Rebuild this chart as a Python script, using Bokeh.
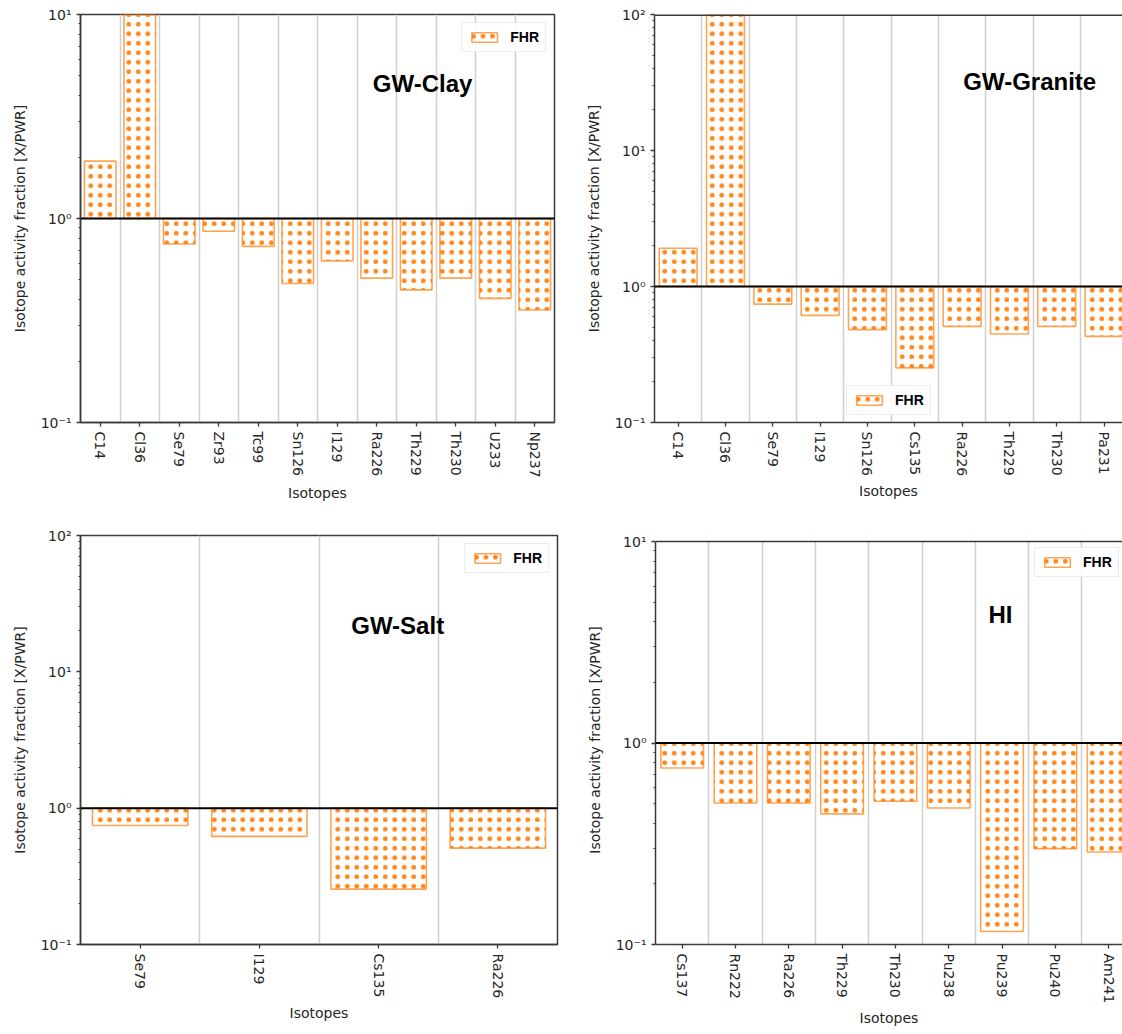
import math

from bokeh.plotting import figure
from bokeh.layouts import column, row
from bokeh.models import FixedTicker, Span, Label, BoxAnnotation
from bokeh.embed import file_html
from bokeh.resources import INLINE

# Activity fraction of each isotope relative to the PWR reference (X/PWR), per scenario
clay_isotopes = ["C14", "Cl36", "Se79", "Zr93", "Tc99", "Sn126", "I129",
                 "Ra226", "Th229", "Th230", "U233", "Np237"]
clay_fhr = [1.91, 40.0, 0.75, 0.866, 0.73, 0.48, 0.62, 0.51, 0.447, 0.51, 0.406, 0.356]

granite_isotopes = ["C14", "Cl36", "Se79", "I129", "Sn126", "Cs135",
                    "Ra226", "Th229", "Th230", "Pa231"]
granite_fhr = [1.91, 150.0, 0.742, 0.613, 0.482, 0.252, 0.509, 0.447, 0.509, 0.43]

salt_isotopes = ["Se79", "I129", "Cs135", "Ra226"]
salt_fhr = [0.747, 0.621, 0.255, 0.509]

hi_isotopes = ["Cs137", "Rn222", "Ra226", "Th229", "Th230", "Pu238",
               "Pu239", "Pu240", "Am241"]
hi_fhr = [0.751, 0.504, 0.504, 0.445, 0.514, 0.476, 0.116, 0.299, 0.288]

BASELINE = 1.0
ORANGE = "#ff7f0e"
INK = "#262626"
FRAME = "#3a3a3a"
SUP = {-1: "10\u207b\u00b9", 0: "10\u2070", 1: "10\u00b9", 2: "10\u00b2"}


def panel(names, values, title, title_xy, ymax, width, height, borders,
          x_end=None, legend_loc="top_right", open_right=False, view_top=None):
    """One scenario: hatched bars from the X/PWR = 1 baseline on a log axis."""
    n = len(names)
    idx = list(range(n))
    left, right, top, bottom = borders
    p = figure(width=width, height=height, y_axis_type="log",
               x_range=(-0.5, x_end if x_end is not None else n - 0.5),
               y_range=(0.1, view_top if view_top else ymax),
               output_backend="svg", toolbar_location=None,
               min_border_left=left, min_border_right=right,
               min_border_top=top, min_border_bottom=bottom)
    p.background_fill_color = "white"
    p.border_fill_color = "white"

    # vertical separators between isotopes
    p.xgrid.ticker = FixedTicker(ticks=[i + 0.5 for i in idx])
    p.xgrid.grid_line_color = "#cfcfcf"
    p.xgrid.grid_line_width = 1.5
    p.ygrid.grid_line_color = None

    p.vbar(x=idx, width=0.8, bottom=BASELINE, top=values,
           fill_color=None, line_color=ORANGE, line_width=1.6, line_alpha=0.7,
           hatch_pattern="dot", hatch_color=ORANGE, hatch_scale=9.5,
           hatch_weight=1.5, hatch_alpha=0.95, legend_label="FHR")

    p.add_layout(Span(location=BASELINE, dimension="width",
                      line_color="black", line_width=2))

    if open_right:
        p.outline_line_color = None
        if view_top:
            # blank strip above the axes box
            p.add_layout(BoxAnnotation(bottom=ymax, fill_color="white", fill_alpha=1,
                                       line_color=None, level="guide"))
        p.add_layout(Span(location=ymax, dimension="width",
                          line_color=FRAME, line_width=1.5 if view_top else 3))
    else:
        p.outline_line_color = FRAME
        p.outline_line_width = 1.5

    xax = p.below[0]
    yax = p.left[0]

    lo, hi = -1, int(round(math.log10(ymax)))
    majors = [10.0 ** e for e in range(lo, hi + 1)]
    minors = [m * 10.0 ** e for e in range(lo, hi) for m in range(2, 10)]
    yax.ticker = FixedTicker(ticks=majors, minor_ticks=minors)
    yax.major_label_overrides = {10.0 ** e: SUP[e] for e in range(lo, hi + 1)}
    yax.bounds = (0.1, ymax)
    xax.ticker = FixedTicker(ticks=idx)
    xax.major_label_overrides = {i: s for i, s in zip(idx, names)}
    xax.major_label_orientation = "vertical"

    for ax in (xax, yax):
        ax.axis_line_color = FRAME
        ax.axis_line_width = 1.5
        ax.major_tick_line_color = FRAME
        ax.major_tick_line_width = 1.3
        ax.major_tick_in = 0
        ax.major_tick_out = 4
        ax.minor_tick_line_color = FRAME
        ax.minor_tick_in = 0
        ax.minor_tick_out = 2
        ax.major_label_text_font = "DejaVu Sans"
        ax.major_label_text_font_size = "14px"
        ax.major_label_text_color = INK
        ax.axis_label_text_font = "DejaVu Sans"
        ax.axis_label_text_font_size = "14px"
        ax.axis_label_text_font_style = "normal"
        ax.axis_label_text_color = INK
    xax.axis_label = "Isotopes"
    yax.axis_label = "Isotope activity fraction [X/PWR]"
    yax.axis_label_standoff = 10
    xax.axis_label_standoff = 4

    p.add_layout(Label(x=title_xy[0], y=title_xy[1], text=title,
                       text_font="Liberation Sans", text_font_style="bold",
                       text_font_size="24px", text_color="black",
                       text_align="center", text_baseline="middle"))

    lg = p.legend[0]
    lg.location = legend_loc
    lg.margin = 8
    lg.padding = 6
    lg.spacing = 0
    lg.glyph_width = 32
    lg.glyph_height = 12
    lg.label_standoff = 10
    lg.label_text_font = "Liberation Sans"
    lg.label_text_font_style = "bold"
    lg.label_text_font_size = "14px"
    lg.label_text_color = "black"
    lg.border_line_color = "#d9d9d9"
    lg.border_line_width = 1
    lg.background_fill_alpha = 0.85
    return p


p_clay = panel(clay_isotopes, clay_fhr, "GW-Clay", (8.16, 4.6), 10,
               574, 520, (80, 20, 14, 98))
p_granite = panel(granite_isotopes, granite_fhr, "GW-Granite", (7.43, 32.0), 100,
                  548, 520, (80, 0, 14, 98), x_end=9.39,
                  legend_loc=(192, 7), open_right=True)
p_salt = panel(salt_isotopes, salt_fhr, "GW-Salt", (2.16, 22.0), 100,
               574, 514, (80, 17, 15, 90))
# the HI box starts a few pixels lower than its neighbour's, so its view runs a bit above 10
p_hi = panel(hi_isotopes, hi_fhr, "HI", (5.97, 4.35), 10,
             548, 514, (81, 0, 15, 90), x_end=8.26,
             legend_loc=(379, 367), open_right=True,
             view_top=10 ** (-1 + 2 * 409 / 403))

layout = column(row(p_clay, p_granite), row(p_salt, p_hi))
open("out.html", "w").write(file_html(layout, INLINE))
